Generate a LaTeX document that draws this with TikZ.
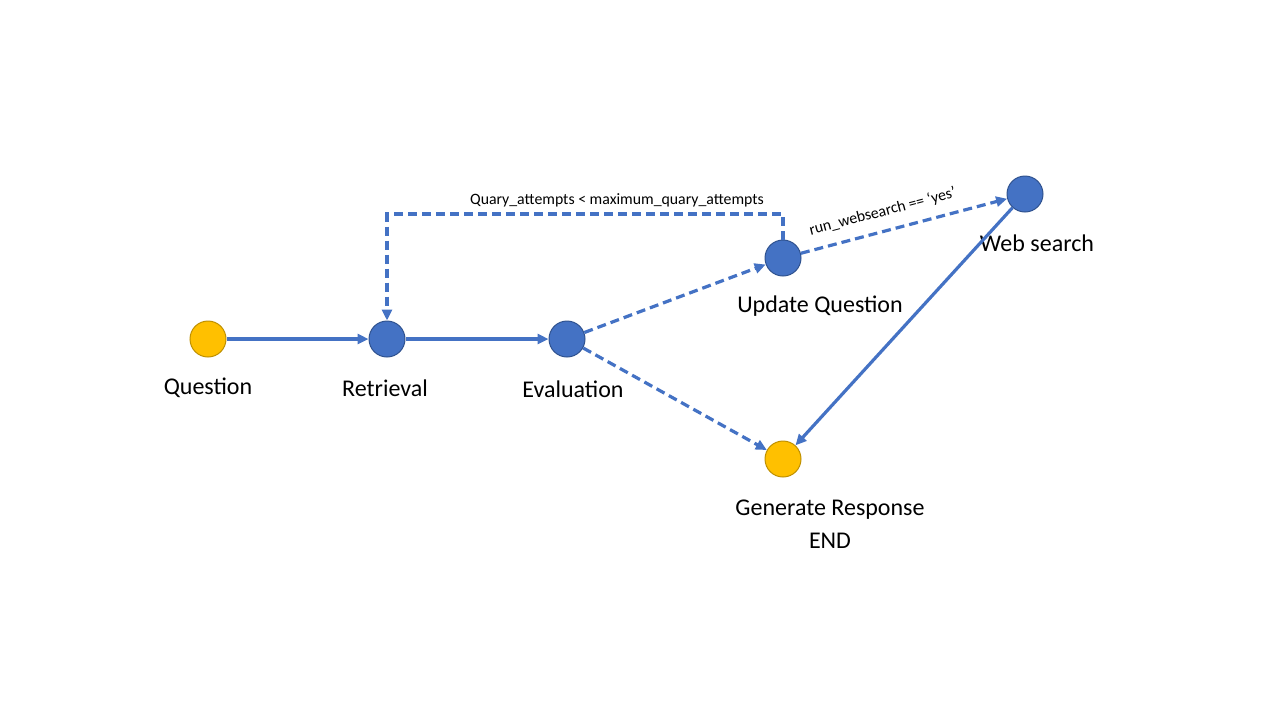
\documentclass[tikz,border=0pt]{standalone}
\usepackage{fontspec}
\setmainfont{Carlito}
\usetikzlibrary{arrows.meta}
\begin{document}
\begin{tikzpicture}[x=0.5pt,y=-0.5pt,>={Triangle[length=5.5pt,width=5pt]}]
        %colores
        \definecolor{nblue}{HTML}{4472C4}
        \definecolor{nbord}{HTML}{2F528F}
        \definecolor{nyel}{HTML}{FFC000}
        \definecolor{ybord}{HTML}{BF9000}
        \tikzset{
            paso/.style={circle,draw=nbord,fill=nblue,line width=0.5pt,minimum size=18pt,inner sep=0pt},
            extremo/.style={paso,draw=ybord,fill=nyel},
            etiq/.style={font=\fontsize{12pt}{16.5pt}\selectfont,align=center},
            peq/.style={font=\fontsize{7.9pt}{9pt}\selectfont,text=black},
            flecha/.style={->,nblue,line width=1.6pt},
            rayas/.style={flecha,dash pattern=on 4.5pt off 2.5pt}
        }
        \useasboundingbox (0,0) rectangle (1280,720);

        % nodos
        \node[extremo] (question) at (208,339) {};
        \node[paso] (retrieval) at (387,339) {};
        \node[paso] (evaluation) at (567,339) {};
        \node[paso] (update) at (783,258) {};
        \node[paso] (websearch) at (1025,194) {};
        \node[extremo] (generate) at (783,459) {};

        % etiquetas
        \node[etiq] (lquestion) at (208,388) {Question};
        \node[etiq] (lretrieval) at (385,388) {Retrieval};
        \node[etiq] (levaluation) at (573,389) {Evaluation};
        \node[etiq] (lupdate) at (820,306) {Update Question};
        \node[etiq] (lwebsearch) at (1037,243) {Web search};
        \node[etiq] (lgenerate) at (830,524) {Generate Response\\END};

        % conexiones
        \draw[flecha] (question) -- (retrieval);
        \draw[flecha] (retrieval) -- (evaluation);
        \draw[rayas] (evaluation) -- (update);
        \draw[rayas] (evaluation) -- (generate);
        \draw[rayas] (update) -- node[peq,sloped,above=2pt,pos=0.42] {run\_websearch == `yes'} (websearch);
        \draw[flecha] (websearch) -- (generate);

        % bucle de vuelta
        \coordinate (arriba) at (783,214);
        \draw[rayas] (update.north) -- (arriba) -- (arriba -| retrieval) -- (retrieval.north);
        \node[peq] (lbucle) at (617,200) {Quary\_attempts < maximum\_quary\_attempts};
    \end{tikzpicture}
\end{document}
